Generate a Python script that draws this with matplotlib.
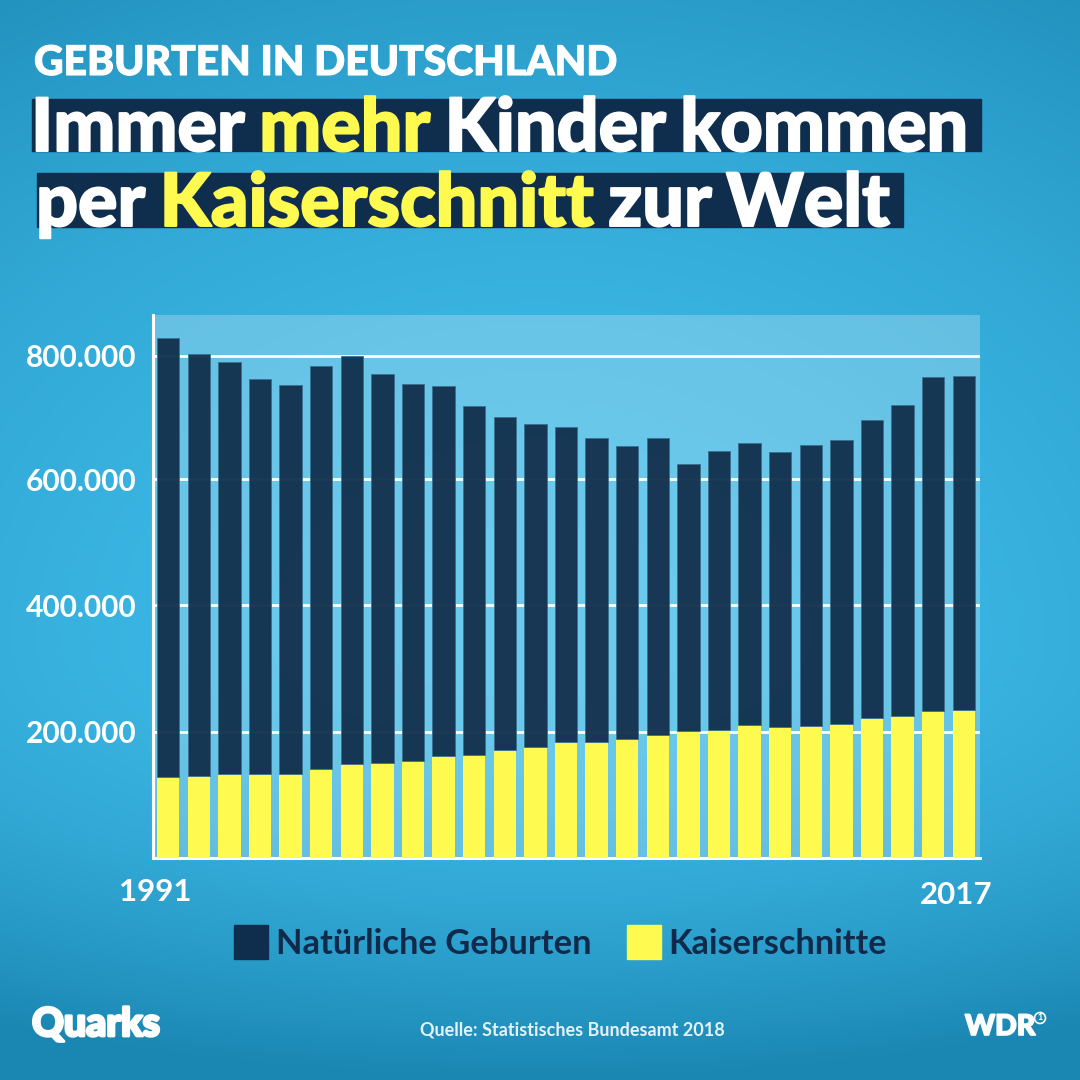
import numpy as np
import matplotlib
matplotlib.use('Agg')
import matplotlib.pyplot as plt
import matplotlib.patheffects as pe
from matplotlib.patches import Rectangle, Circle

plt.rcParams['font.family'] = ['Lato', 'DejaVu Sans']

jahre = list(range(1991, 2018))
gesamt = [823000, 798000, 785000, 758000, 749000, 779000, 795000, 766000, 750000,
          747000, 716000, 698000, 687000, 682000, 665000, 652000, 665000, 624000,
          644000, 657000, 643000, 654000, 662000, 693000, 717000, 762000, 763000]
kaiser = [128000, 130000, 133000, 133000, 133000, 141000, 149000, 150000, 154000,
          161000, 163000, 171000, 176000, 184000, 184000, 188000, 195000, 201000,
          203000, 210000, 207000, 209000, 212000, 222000, 225000, 233000, 234000]
natuerlich = [g - k for g, k in zip(gesamt, kaiser)]
tick_werte = [200000, 400000, 600000, 795000]   # top line sits a bit low in the original
tick_namen = ['200.000', '400.000', '600.000', '800.000']

DUNKEL = '#14324f'
BAND = '#0f2d4d'
GELB = '#fffa50'

fig = plt.figure(figsize=(10.8, 10.8), dpi=100)

# Background gradient
bg = fig.add_axes([0, 0, 1, 1], zorder=0)
bg.axis('off')
yy, xx = np.mgrid[0:1080, 0:1080]
y_skala = np.where(yy < 640, 865.0, 440.0)
d = np.sqrt(((xx - 540) / 1150) ** 2 + ((yy - 640) / y_skala) ** 2)
d = np.clip(d, 0, 1)
c_mitte = np.array([0x3e, 0xba, 0xe8]) / 255
c_rand = np.array([0x1a, 0x86, 0xb2]) / 255
bild = c_mitte + (c_rand - c_mitte) * d[..., None] ** 2
bg.imshow(bild, extent=(0, 1080, 1080, 0), aspect='auto', interpolation='bilinear')
bg.set_xlim(0, 1080)
bg.set_ylim(1080, 0)

# Chart
ax = fig.add_axes([153 / 1080, (1080 - 858) / 1080, 827 / 1080, 543 / 1080], zorder=1)
ax.set_facecolor((1, 1, 1, 0.24))
x = np.arange(len(jahre))
ax.bar(x, kaiser, width=0.73, color=GELB, zorder=3)
ax.bar(x, natuerlich, width=0.73, bottom=kaiser, color=DUNKEL, alpha=0.97,
       edgecolor='#3a6f8f', linewidth=0.6, zorder=3)
ax.set_xlim(-0.497, 26.53)
ax.set_ylim(0, 543 * 200000 / 126.3)
ax.set_yticks(tick_werte)
ax.set_yticklabels(tick_namen, color='white', fontsize=21.5, fontweight='bold')
ax.tick_params(axis='y', length=0, pad=12)
ax.set_xticks([])
ax.grid(axis='y', color='white', linewidth=2, zorder=1)
ax.set_axisbelow(True)
for s in ['top', 'right']:
    ax.spines[s].set_visible(False)
for s in ['left', 'bottom']:
    ax.spines[s].set_color('white')
    ax.spines[s].set_linewidth(2.2)

# Overlay in pixel coordinates
ov = fig.add_axes([0, 0, 1, 1], zorder=2)
ov.set_xlim(0, 1080)
ov.set_ylim(1080, 0)
ov.axis('off')
ov.patch.set_alpha(0)


def fett(farbe, breite=1.4):
    # Lato Black is still lighter than the original face
    return [pe.withStroke(linewidth=breite, foreground=farbe)]


def wort_reihe(x0, y0, teile, size):
    # words in different colours, one after the other on a baseline
    r = fig.canvas.get_renderer()
    for wort, farbe in teile:
        t = ov.text(x0, y0, wort, color=farbe, fontsize=size, fontweight='black',
                    ha='left', va='baseline', path_effects=fett(farbe))
        x0 = ov.transData.inverted().transform(t.get_window_extent(r).corners())[:, 0].max()
        x0 += size * 0.27


ov.text(34, 75, 'GEBURTEN IN DEUTSCHLAND', color='white', fontsize=29.4,
        fontweight='black', ha='left', va='baseline', path_effects=fett('white', 0.8))

ov.add_patch(Rectangle((32, 99), 949, 52, color=BAND, zorder=0))
ov.add_patch(Rectangle((37, 173), 866, 54, color=BAND, zorder=0))
wort_reihe(31, 151, [('Immer', 'white'), ('mehr', GELB), ('Kinder', 'white'), ('kommen', 'white')], 53)
wort_reihe(36, 226, [('per', 'white'), ('Kaiserschnitt', GELB), ('zur', 'white'), ('Welt', 'white')], 53)

ov.text(155, 892, str(jahre[0]), color='white', fontsize=22.5, fontweight='bold',
        ha='center', va='center')
ov.text(956, 895, str(jahre[-1]), color='white', fontsize=22.5, fontweight='bold',
        ha='center', va='center')

# Legend
ov.add_patch(Rectangle((234, 925), 34, 34, color=BAND))
ov.add_patch(Rectangle((627, 925), 34, 34, color=GELB))
ov.text(276, 944, 'Natürliche Geburten', color='#0f2a4a', fontsize=24.8,
        fontweight='bold', ha='left', va='center')
ov.text(668, 944, 'Kaiserschnitte', color='#0f2a4a', fontsize=24.7,
        fontweight='bold', ha='left', va='center')

# Footer
ov.text(32, 1036, 'Quarks', color='white', fontsize=28.3, fontweight='black',
        ha='left', va='baseline', path_effects=fett('white', 2))
ov.text(572, 1030, 'Quelle: Statistisches Bundesamt 2018', color='#e4f3f8', fontsize=13,
        fontweight='bold', ha='center', va='center')
ov.text(965, 1035, 'WDR', color='white', fontsize=20.5, fontweight='black',
        ha='left', va='baseline', path_effects=fett('white', 1.2))
ov.add_patch(Circle((1040, 1018), 5.5, fill=False, edgecolor='white', linewidth=1.2))
ov.text(1040, 1018, '1', color='white', fontsize=6.5, fontweight='bold',
        ha='center', va='center')

fig.savefig('out.png', dpi=100)
